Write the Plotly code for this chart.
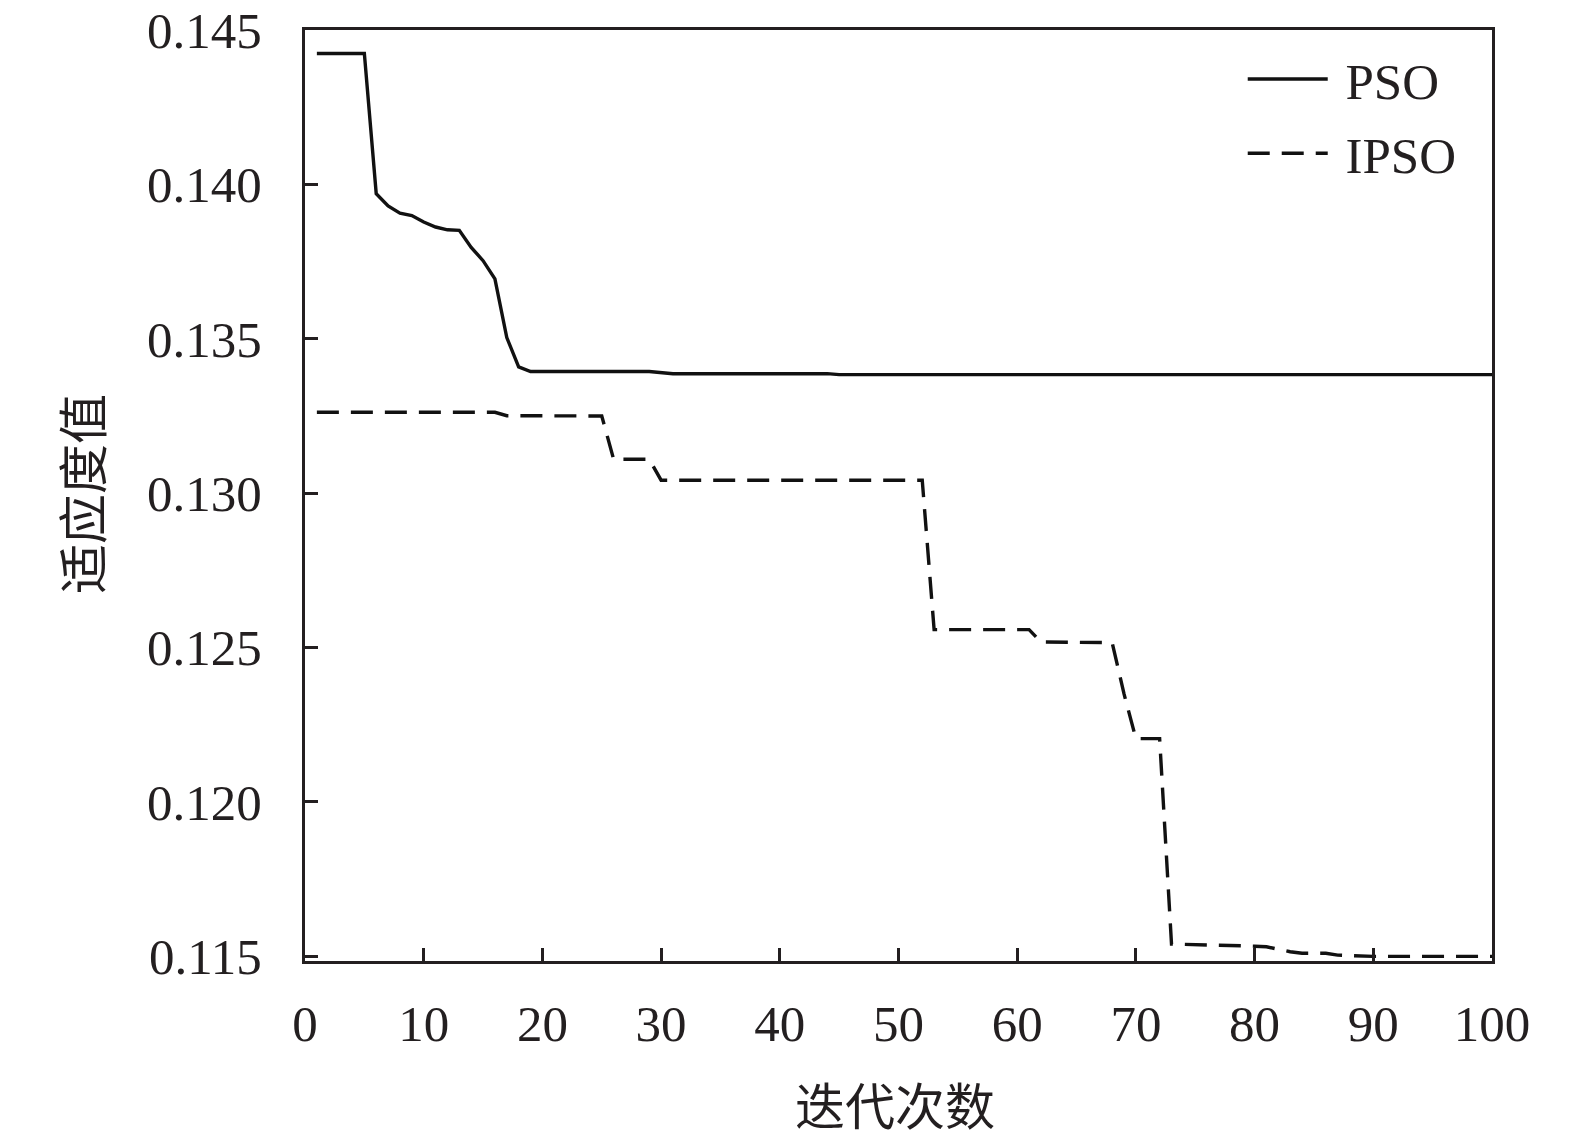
import plotly.graph_objects as go

# Points (iteration, fitness); straight segments between them
PSO_X = [1, 5, 6, 7, 8, 9, 10, 11, 12, 13, 14, 15, 16, 17, 18, 19, 29, 30, 31, 44, 45, 100]
PSO_Y = [0.14424, 0.14424, 0.13970, 0.13930, 0.13907, 0.13899, 0.13878, 0.13862,
         0.13853, 0.13851, 0.13796, 0.13753, 0.13694, 0.13504, 0.13409, 0.13394,
         0.13394, 0.13390, 0.13387, 0.13387, 0.13384, 0.13384]

IPSO_X = [1, 16, 17, 25, 26, 29, 30, 52, 53, 61, 62, 68, 69, 70, 72, 73,
          80, 81, 82, 83, 84, 86, 87, 89, 90, 100]
IPSO_Y = [0.13262, 0.13262, 0.13251, 0.13250, 0.13110, 0.13110, 0.13042, 0.13042,
          0.12558, 0.12558, 0.12518, 0.12516, 0.12350, 0.12205, 0.12205, 0.11540,
          0.11533, 0.11531, 0.11523, 0.11515, 0.11510, 0.11510, 0.11504, 0.11503,
          0.11500, 0.11500]

X_TICKS = [0, 10, 20, 30, 40, 50, 60, 70, 80, 90, 100]
Y_TICKS = [0.115, 0.120, 0.125, 0.130, 0.135, 0.140, 0.145]
Y_LABELS = ["0.115", "0.120", "0.125", "0.130", "0.135", "0.140", "0.145"]

INK = "#231f20"
SERIF = "Liberation Serif, Times New Roman, serif"
CJK = "Noto Sans CJK SC"
NBSP = "\u00a0"

fig = go.Figure()
fig.add_trace(go.Scatter(x=PSO_X, y=PSO_Y, mode="lines", name=NBSP + "PSO",
                         legendgroup="pso",
                         line=dict(color="#111111", width=3.4)))
fig.add_trace(go.Scatter(x=IPSO_X, y=IPSO_Y, mode="lines", name=NBSP + "IPSO",
                         legendgroup="ipso",
                         line=dict(color="#111111", width=3.4, dash="22px,12px")))

axis_common = dict(
    showline=True, linecolor=INK, linewidth=3, mirror=True,
    showgrid=False, zeroline=False, automargin=False,
    ticks="inside", ticklen=13, tickwidth=3, tickcolor=INK,
    ticklabeloverflow="allow",
    tickfont=dict(family=SERIF, size=51, color=INK),
)

# margins tuned against the page offset of the rendered html
fig.update_layout(
    width=1575, height=1133,
    margin=dict(l=297, r=91, t=22, b=180, pad=0),
    paper_bgcolor="white", plot_bgcolor="white",
    xaxis=dict(range=[0, 100], tickvals=X_TICKS, ticklabelstandoff=16, **axis_common),
    yaxis=dict(range=[0.11485, 0.145], tickvals=Y_TICKS, ticktext=Y_LABELS,
               ticklabelstandoff=30, **axis_common),
    legend=dict(x=0.79, y=0.99, xanchor="left", yanchor="top",
                font=dict(family=SERIF, size=51, color=INK),
                bgcolor="rgba(0,0,0,0)", itemwidth=80, tracegroupgap=5),
    showlegend=True,
)

fig.add_annotation(text="迭代次数", xref="paper", yref="paper", x=0.497, y=-0.153,
                   xanchor="center", yanchor="middle", showarrow=False,
                   font=dict(family=CJK, size=50, color=INK))
fig.add_annotation(text="适应度值", xref="paper", yref="paper", x=-0.19, y=0.502,
                   xanchor="center", yanchor="middle", textangle=-90, showarrow=False,
                   font=dict(family=CJK, size=50, color=INK))

fig.write_html("out.html")
